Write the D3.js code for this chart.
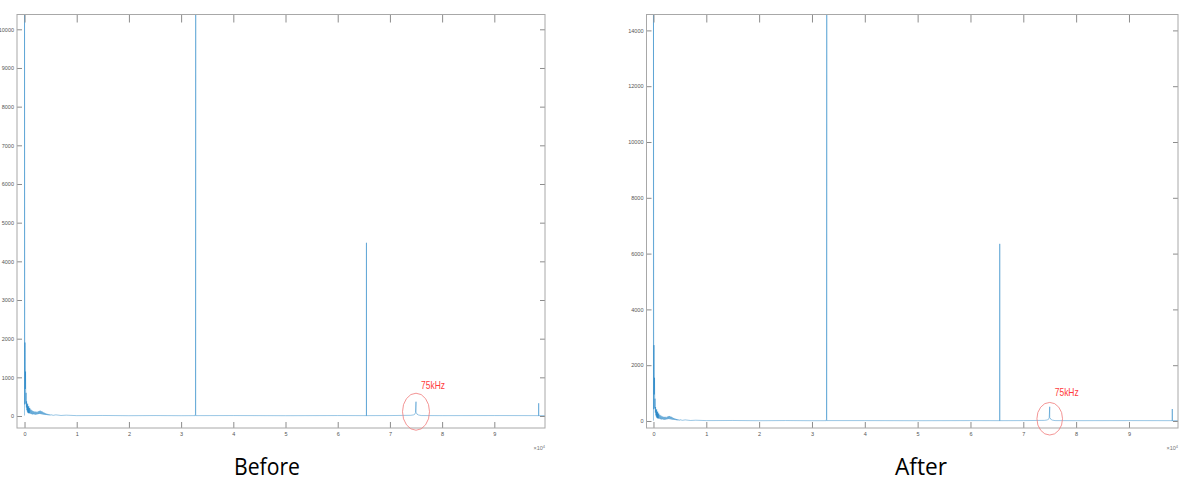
<!DOCTYPE html>
<html>
<head>
<meta charset="utf-8">
<script src="https://cdn.jsdelivr.net/npm/d3@7"></script>
<style>
  body { margin: 0; background: #fff; }
  svg { display: block; }
</style>
</head>
<body>
<div id="chart"></div>
<script>
const W = 1198
const H = 490

// Spectrum: [frequency Hz, amplitude]
const beforeSpectrum = [
  [0, 12], [0, 12000], [50, 300], [100, 1900], [150, 700], [200, 1150], [250, 320], [300, 600], [350, 220],
  [400, 380], [450, 150], [500, 300], [550, 110], [600, 320], [650, 80], [700, 240], [750, 70],
  [800, 260], [850, 80], [900, 200], [950, 70],
  [1000, 210], [1100, 60], [1200, 170], [1300, 50], [1400, 150], [1500, 40], [1600, 130], [1700, 45],
  [1800, 120], [1900, 40], [2000, 110], [2100, 35], [2200, 115], [2300, 40], [2400, 100], [2500, 45],
  [2600, 120], [2700, 50], [2800, 130], [2900, 55], [3000, 140], [3100, 50], [3200, 125], [3300, 45],
  [3400, 115], [3500, 40], [3600, 95], [3700, 35], [3800, 85], [3900, 30], [4000, 70], [4100, 25],
  [4200, 60], [4300, 25], [4400, 55], [4500, 20], [4600, 45], [4700, 20], [4800, 40], [4900, 15],
  [5000, 35], [5500, 18], [6000, 30], [7000, 14], [8000, 22], [10000, 10], [15000, 14], [20000, 8],
  [25000, 12], [30000, 8], [32700, 10], [32750, 60], [32800, 12000], [32800, 10], [40000, 12], [50000, 8],
  [60000, 12], [65500, 10], [65500, 4480], [65500, 10], [70000, 12],
  [74000, 18], [74500, 28], [74800, 50], [74900, 90], [75000, 370], [75000, 90], [75100, 80], [75200, 45],
  [75500, 25], [76000, 12], [80000, 10], [90000, 12], [98500, 10], [98500, 330], [98500, 10], [99700, 10]
]

const afterSpectrum = [
  [0, 14], [0, 16000], [50, 420], [100, 2720], [150, 950], [200, 1550], [250, 450], [300, 800], [350, 300],
  [400, 500], [450, 200], [500, 400], [550, 150], [600, 420], [650, 110], [700, 320], [750, 95],
  [800, 340], [850, 100], [900, 260], [950, 90],
  [1000, 270], [1100, 80], [1200, 220], [1300, 65], [1400, 195], [1500, 55], [1600, 170], [1700, 60],
  [1800, 155], [1900, 50], [2000, 145], [2100, 45], [2200, 150], [2300, 50], [2400, 130], [2500, 60],
  [2600, 155], [2700, 65], [2800, 170], [2900, 70], [3000, 180], [3100, 65], [3200, 160], [3300, 60],
  [3400, 150], [3500, 50], [3600, 125], [3700, 45], [3800, 110], [3900, 40], [4000, 90], [4100, 35],
  [4200, 80], [4300, 30], [4400, 70], [4500, 25], [4600, 60], [4700, 25], [4800, 50], [4900, 20],
  [5000, 45], [5500, 24], [6000, 40], [7000, 18], [8000, 28], [10000, 14], [15000, 18], [20000, 10],
  [25000, 16], [30000, 10], [32700, 12], [32750, 80], [32800, 16000], [32800, 14], [40000, 14], [50000, 10],
  [60000, 14], [65540, 12], [65540, 6350], [65540, 12], [70000, 14],
  [74000, 22], [74500, 36], [74800, 65], [74900, 120], [75000, 510], [75000, 120], [75100, 105], [75200, 60],
  [75500, 32], [76000, 14], [80000, 12], [90000, 14], [98200, 12], [98200, 430], [98200, 12], [99300, 12]
]

const xTicks = [0, 10000, 20000, 30000, 40000, 50000, 60000, 70000, 80000, 90000]
const beforeYTicks = [0, 1000, 2000, 3000, 4000, 5000, 6000, 7000, 8000, 9000, 10000]
const afterYTicks = [0, 2000, 4000, 6000, 8000, 10000, 12000, 14000]
const peakLabel = "75kHz"
const peakFreq = 75000

const panels = [
  { title: "Before", data: beforeSpectrum, yTicks: beforeYTicks,
    x0: 17, x1: 545, y0: 14.5, y1: 428,
    xDomain: [-1440, 99710], yDomain: [-310, 10383],
    titleX: 267, titleW: 66, ring: [13.5, 18.5] },
  { title: "After", data: afterSpectrum, yTicks: afterYTicks,
    x0: 646.5, x1: 1178, y0: 14.5, y1: 428,
    xDomain: [-1320, 99280], yDomain: [-251, 14570],
    titleX: 921, titleW: 52, ring: [12.8, 16.3] }
]

const svg = d3.select("#chart").append("svg")
  .attr("width", W)
  .attr("height", H)

panels.forEach((p, i) => {
  const x = d3.scaleLinear().domain(p.xDomain).range([p.x0, p.x1])
  const y = d3.scaleLinear().domain(p.yDomain).range([p.y1, p.y0])
  const g = svg.append("g")

  g.append("clipPath").attr("id", "clip" + i)
    .append("rect")
      .attr("x", p.x0).attr("y", p.y0)
      .attr("width", p.x1 - p.x0).attr("height", p.y1 - p.y0)

  // spectrum line
  const line = d3.line().x(d => x(d[0])).y(d => y(d[1]))
  g.append("path")
    .datum(p.data)
    .attr("clip-path", "url(#clip" + i + ")")
    .attr("fill", "none")
    .attr("stroke", "#0072bd")
    .attr("stroke-width", 0.4)
    .attr("d", line)

  // axes, ticks pointing inward
  const styleAxis = sel => {
    sel.select(".domain").remove()
    sel.selectAll(".tick line").attr("stroke", "#8c8c8c")
    sel.selectAll(".tick text").attr("fill", "#555").style("font-size", "5.5px")
      .style("font-family", "'Liberation Sans', Arial, sans-serif")
  }
  g.append("g").attr("transform", `translate(0,${p.y1})`)
    .call(d3.axisBottom(x).tickValues(xTicks).tickSize(-6).tickPadding(4).tickFormat(d => d / 1e4))
    .call(styleAxis)
  g.append("g").attr("transform", `translate(0,${p.y0})`)
    .call(d3.axisTop(x).tickValues(xTicks).tickSize(-8).tickFormat(""))
    .call(styleAxis)
  g.append("g").attr("transform", `translate(${p.x0},0)`)
    .call(d3.axisLeft(y).tickValues(p.yTicks).tickSize(-5).tickPadding(3).tickFormat(d3.format("d")))
    .call(styleAxis)
  g.append("g").attr("transform", `translate(${p.x1},0)`)
    .call(d3.axisRight(y).tickValues(p.yTicks).tickSize(-5).tickFormat(""))
    .call(styleAxis)

  g.append("rect")
    .attr("x", p.x0).attr("y", p.y0)
    .attr("width", p.x1 - p.x0).attr("height", p.y1 - p.y0)
    .attr("fill", "none").attr("stroke", "#a8a8a8").attr("stroke-width", 1)

  // x10^4 exponent label
  const ex = g.append("text")
    .attr("x", p.x1).attr("y", p.y1 + 22)
    .attr("text-anchor", "end")
    .attr("fill", "#777")
    .style("font-size", "5.5px")
    .style("font-family", "'Liberation Sans', Arial, sans-serif")
  ex.append("tspan").text("\u00d710")
  ex.append("tspan").attr("dy", -2.5).style("font-size", "4px").text("4")

  // annotation around the 75 kHz peak
  const peak = p.data.find(d => d[0] === peakFreq)
  const cx = x(peakFreq)
  const cy = y(peak[1] * 0.3)
  g.append("ellipse")
    .attr("cx", cx).attr("cy", cy + (i === 0 ? 0 : 2))
    .attr("rx", p.ring[0]).attr("ry", p.ring[1])
    .attr("fill", "none").attr("stroke", "#f07a7a").attr("stroke-width", 0.8)
  g.append("text")
    .attr("x", cx + 5).attr("y", cy - p.ring[1] - 4)
    .attr("fill", "#ff3b3b")
    .attr("textLength", 24).attr("lengthAdjust", "spacingAndGlyphs")
    .style("font-size", "11px")
    .style("font-family", "'Liberation Sans', Arial, sans-serif")
    .text(peakLabel)

  // panel title
  svg.append("text")
    .attr("x", p.titleX).attr("y", 475)
    .attr("text-anchor", "middle")
    .attr("fill", "#000")
    .attr("textLength", p.titleW).attr("lengthAdjust", "spacingAndGlyphs")
    .style("font-size", "23px")
    .style("font-family", "'Open Sans', 'Noto Sans', sans-serif")
    .text(p.title)
})
</script>
</body>
</html>
